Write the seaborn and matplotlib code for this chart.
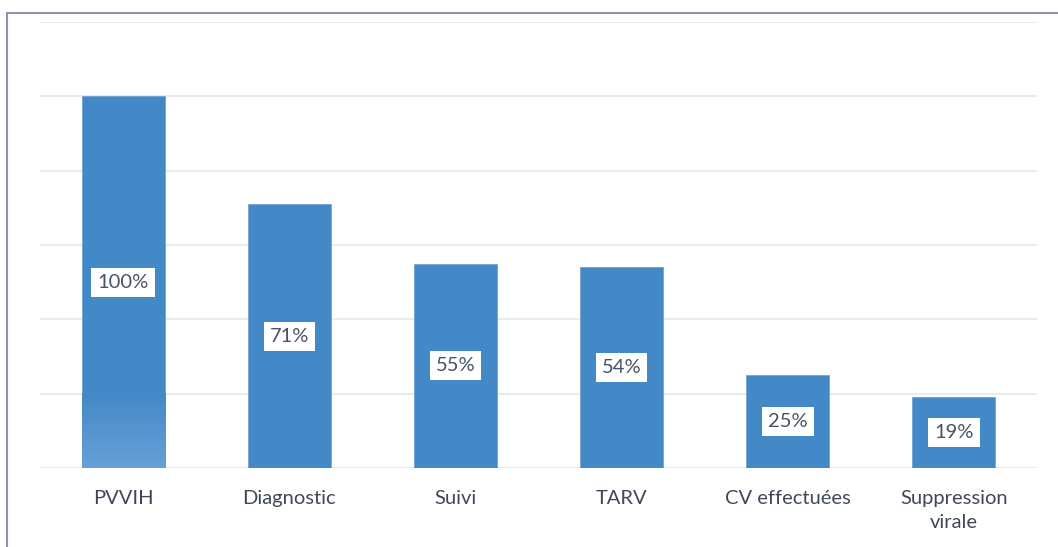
import numpy as np
import pandas as pd
import matplotlib
matplotlib.use("Agg")
import matplotlib.pyplot as plt
import matplotlib.colors as mcolors
import seaborn as sns

# ─── Data ─────────────────────────────────────────────────────────────────────
categories = ["PVVIH", "Diagnostic", "Suivi", "TARV", "CV effectuées", "Suppression\nvirale"]
values = [100, 71, 55, 54, 25, 19]
labels = ["100%", "71%", "55%", "54%", "25%", "19%"]

df = pd.DataFrame({"etape": categories, "pct": values})

sns.set_theme(style="white")
plt.rcParams["font.family"] = ["Lato", "DejaVu Sans"]

fig = plt.figure(figsize=(10.58, 5.47), dpi=100)
ax = fig.add_axes([40 / 1058, 1 - 468 / 547, 997 / 1058, 446 / 547])

bar_color = "#4389C8"
sns.barplot(data=df, x="etape", y="pct", ax=ax, color=bar_color,
            width=0.5, saturation=1, edgecolor="#6FA3D6", linewidth=0.6)

# soft lighter fade at the foot of the first bar
first = ax.patches[0]
grad = mcolors.LinearSegmentedColormap.from_list("fade", ["#689FD6", bar_color])
img = ax.imshow(np.linspace(0, 1, 100).reshape(-1, 1), cmap=grad, aspect="auto",
                extent=[first.get_x(), first.get_x() + first.get_width(), 0, 20],
                origin="lower", zorder=first.get_zorder() + 0.1)
img.set_clip_path(first)

ax.set_ylim(0, 120)
ax.set_xlim(-0.5, len(categories) - 0.5)
ax.set_yticks(np.arange(0, 121, 20))
ax.yaxis.grid(True, color="#E1E5EC", linewidth=1.1)
ax.set_axisbelow(True)
ax.tick_params(axis="y", left=False, labelleft=False)
ax.tick_params(axis="x", bottom=False, labelsize=14.5, colors="#404858", pad=10)
for t in ax.get_xticklabels():
    t.set_linespacing(1.45)
for s in ax.spines.values():
    s.set_visible(False)
ax.set_xlabel("")
ax.set_ylabel("")

# value labels in white boxes at bar centres
for i, (v, lab) in enumerate(zip(values, labels)):
    ax.text(i, v / 2, lab, ha="center", va="center", fontsize=14.5, color="#44546A",
            zorder=5, bbox=dict(boxstyle="square,pad=0.3", fc="white", ec="none"))

# outer frame (top and left edges)
fig.add_artist(plt.Line2D([7 / 1058, 1], [1 - 13 / 547, 1 - 13 / 547],
                          color="#9A8CB4", linewidth=1.5, transform=fig.transFigure))
fig.add_artist(plt.Line2D([7 / 1058, 7 / 1058], [0, 1 - 13 / 547],
                          color="#9A8CB4", linewidth=1.5, transform=fig.transFigure))

fig.savefig("out.png", dpi=100)
